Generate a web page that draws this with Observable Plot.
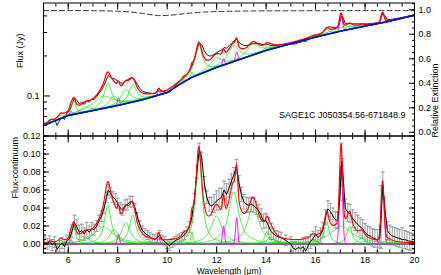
<!DOCTYPE html>
<html><head><meta charset="utf-8">
<script src="https://cdn.jsdelivr.net/npm/d3@7"></script>
<script src="https://cdn.jsdelivr.net/npm/@observablehq/plot@0.6"></script>
<style>
body{margin:0;background:#fff}
#chart{position:relative;width:441px;height:275px;overflow:hidden;background:#fff}
#chart svg{position:absolute;left:0;overflow:visible}
</style></head><body><div id="chart"></div>
<script>
// ---------- data ----------
const sourceName = "SAGE1C J050354.56-671848.9";

// observed spectrum: wavelength (µm), flux minus continuum (Jy), error (Jy)
const wavelength = [5.05,5.15,5.25,5.35,5.45,5.55,5.65,5.75,5.85,5.95,6.05,6.15,6.25,6.35,6.45,6.55,6.65,6.75,6.85,6.95,7.05,7.15,7.25,7.35,7.45,7.55,7.62,7.7,7.8,7.9,8.0,8.1,8.2,8.3,8.4,8.5,8.6,8.7,8.8,8.9,9.0,9.1,9.2,9.3,9.4,9.5,9.6,9.7,9.8,9.9,10.0,10.1,10.2,10.3,10.4,10.5,10.6,10.7,10.8,10.9,11.0,11.1,11.2,11.3,11.4,11.5,11.6,11.7,11.8,11.9,12.0,12.1,12.2,12.3,12.4,12.5,12.6,12.7,12.8,12.9,13.0,13.1,13.2,13.3,13.4,13.5,13.6,13.7,13.8,13.9,14.0,14.1,14.2,14.3,14.4,14.5,14.6,14.8,15.0,15.1,15.2,15.3,15.4,15.5,15.6,15.7,15.8,15.9,16.0,16.1,16.2,16.3,16.4,16.5,16.6,16.7,16.8,16.9,17.0,17.05,17.1,17.2,17.3,17.4,17.5,17.6,17.7,17.8,17.9,18.0,18.1,18.2,18.3,18.4,18.5,18.6,18.65,18.72,18.8,18.9,19.0,19.1,19.2,19.3,19.4,19.5,19.6,19.7,19.8,19.9,20.0];
const residual = [0.002,0.000,0.003,-0.001,0.002,-0.006,-0.002,0.001,-0.003,0.004,0.006,0.014,0.024,0.019,0.013,0.015,0.011,0.016,0.013,0.017,0.016,0.020,0.026,0.031,0.040,0.052,0.060,0.057,0.052,0.050,0.045,0.040,0.038,0.043,0.044,0.047,0.047,0.040,0.030,0.021,0.015,0.012,0.010,0.008,0.006,0.005,0.007,0.010,0.005,0.003,0.000,-0.002,0.001,0.003,0.005,0.006,0.008,0.010,0.014,0.019,0.030,0.050,0.080,0.105,0.095,0.068,0.052,0.044,0.042,0.045,0.048,0.050,0.052,0.060,0.055,0.062,0.070,0.077,0.086,0.068,0.055,0.047,0.044,0.043,0.044,0.043,0.040,0.037,0.032,0.025,0.026,0.020,0.014,0.011,0.009,0.008,0.007,0.004,0.000,-0.005,-0.006,-0.004,-0.005,-0.003,-0.008,-0.002,0.003,0.006,0.011,0.007,0.010,0.016,0.030,0.039,0.036,0.031,0.027,0.026,0.060,0.092,0.080,0.040,0.035,0.034,0.028,0.025,0.022,0.019,0.017,0.013,0.010,0.009,0.007,0.006,0.004,0.008,0.030,0.065,0.040,0.015,0.011,0.009,0.008,0.007,0.006,0.005,0.005,0.004,0.003,0.003,0.002];
const errorBar = [0.006,0.006,0.006,0.006,0.006,0.006,0.006,0.006,0.006,0.006,0.007,0.007,0.008,0.008,0.008,0.007,0.007,0.008,0.007,0.007,0.006,0.006,0.006,0.006,0.006,0.006,0.006,0.006,0.006,0.006,0.006,0.006,0.006,0.006,0.006,0.006,0.006,0.005,0.005,0.005,0.005,0.005,0.005,0.005,0.005,0.005,0.005,0.005,0.005,0.005,0.005,0.005,0.005,0.005,0.005,0.005,0.005,0.005,0.005,0.006,0.006,0.006,0.007,0.007,0.007,0.007,0.007,0.008,0.010,0.010,0.011,0.012,0.010,0.010,0.012,0.010,0.008,0.008,0.008,0.008,0.008,0.008,0.008,0.008,0.008,0.008,0.007,0.007,0.007,0.008,0.008,0.009,0.009,0.006,0.006,0.006,0.006,0.006,0.008,0.008,0.009,0.009,0.010,0.010,0.016,0.010,0.008,0.008,0.008,0.008,0.008,0.008,0.008,0.009,0.009,0.009,0.009,0.009,0.012,0.020,0.015,0.010,0.010,0.010,0.010,0.010,0.010,0.010,0.010,0.010,0.010,0.010,0.010,0.010,0.012,0.012,0.035,0.015,0.012,0.010,0.010,0.010,0.010,0.010,0.010,0.013,0.010,0.010,0.010,0.009,0.008];

// fitted continuum (Jy)
const contWave = [5,6,7,8,9,9.5,10,10.5,11,12,13,14,15,16,17,18,19,20];
const contFlux = [0.060,0.0713,0.0777,0.0848,0.0936,0.0996,0.106,0.122,0.138,0.164,0.190,0.220,0.247,0.277,0.307,0.335,0.365,0.405];

// relative extinction (right axis)
const extWave = [5,6,7,8,8.5,9,9.4,9.7,10,10.5,11,11.5,12,13,14,16,18,20];
const extValue = [0.993,0.993,0.992,0.988,0.982,0.970,0.958,0.952,0.953,0.963,0.974,0.981,0.985,0.989,0.991,0.992,0.993,0.993];

// dust features (Drude profiles): centre (µm), FWHM (µm), peak (Jy)
const featureCenter = [5.27,5.70,6.22,6.69,7.42,7.60,7.85,8.33,8.61,10.68,11.00,11.28,11.99,12.69,13.48,14.04,14.19,15.90,16.45,17.04,17.375,17.87,18.92];
const featureFwhm   = [0.18,0.20,0.19,0.47,0.94,0.33,0.42,0.42,0.34,0.21,0.10,0.30,0.54,0.50,0.54,0.22,0.36,0.32,0.23,1.10,0.25,0.29,0.36];
const featurePeak   = [0.002,0.004,0.020,0.007,0.019,0.043,0.016,0.024,0.032,0.004,0.013,0.101,0.031,0.058,0.043,0.014,0.008,0.005,0.0256,0.0195,0.020,0.007,0.004];

// gas lines (Gaussians): centre, FWHM, peak
const lineCenter = [6.11,8.03,9.66,12.28,12.81,17.03,18.71];
const lineFwhm   = [0.10,0.10,0.10,0.10,0.10,0.14,0.14];
const linePeak   = [0.005,0.011,0.008,0.020,0.030,0.088,0.066];

// axis ticks
const xMajor = [6,8,10,12,14,16,18,20];
const xMinor = d3.range(5, 20.01, 0.5);
const fluxMajor = [0.1];
const fluxMinor = [0.06,0.07,0.08,0.09,0.2,0.3,0.4];
const extMajor = [0,0.2,0.4,0.6,0.8,1.0];
const extMinor = d3.range(0, 1.051, 0.05);
const resMajor = [0,0.02,0.04,0.06,0.08,0.10,0.12];
const resMinor = d3.range(-0.01, 0.1201, 0.005);

// ---------- model ----------
const logCont = d3.scaleLinear().domain(contWave).range(contFlux.map(Math.log));
const cont = w => Math.exp(logCont(w));
const drude = (w, c, f, p) => { const g = f / c, t = w / c - c / w; return p * g * g / (t * t + g * g); };
const gauss = (w, c, f, p) => { const s = f / 2.3548; return p * Math.exp(-0.5 * ((w - c) / s) ** 2); };
const grid = d3.range(5, 20.0001, 0.02);
const featCurves = [], lineCurves = [];
featureCenter.forEach((c, i) => grid.forEach(w => featCurves.push({w, f: i, v: drude(w, c, featureFwhm[i], featurePeak[i])})));
lineCenter.forEach((c, i) => grid.filter(w => Math.abs(w - c) < 0.35).forEach(w => lineCurves.push({w, f: i, v: gauss(w, c, lineFwhm[i], linePeak[i])})));
const model = grid.map(w => ({w,
  v: d3.sum(featureCenter, (c, i) => drude(w, c, featureFwhm[i], featurePeak[i])) +
     d3.sum(lineCenter, (c, i) => gauss(w, c, lineFwhm[i], linePeak[i]))}));
const obs = wavelength.map((w, i) => ({w, r: residual[i], e: errorBar[i]}));
const ext = extWave.map((w, i) => ({w, v: extValue[i]}));

const font = "'Liberation Sans', Arial, Helvetica, sans-serif";
const W = 441, ML = 43, MR = 27;
const GREEN = "#00e000", MAG = "#ff00ff";
const blank = () => "";
const capSymbol = {draw(ctx, size) { const r = Math.sqrt(size / Math.PI); ctx.moveTo(-r, 0); ctx.lineTo(r, 0); }};

function xTicks(anchor) {
  const s = anchor === "bottom" ? -1 : 1;
  return [
    Plot.axisX({anchor, ticks: xMinor, tickSize: 3, dy: s * 3, tickFormat: blank, label: null}),
    Plot.axisX({anchor, ticks: xMajor, tickSize: 6, dy: s * 6, tickFormat: blank, label: null})
  ];
}
function yTicks(anchor, major, minor, majLen, minLen) {
  const s = anchor === "left" ? 1 : -1;
  return [
    Plot.axisY({anchor, ticks: minor, tickSize: minLen, dx: s * minLen, tickFormat: blank, label: null}),
    Plot.axisY({anchor, ticks: major, tickSize: majLen, dx: s * majLen, tickFormat: blank, label: null})
  ];
}

// ---------- top panel ----------
const topPlot = Plot.plot({
  width: W, height: 136, marginLeft: ML, marginRight: MR, marginTop: 2.5, marginBottom: 0.5,
  style: {fontFamily: font, fontSize: "9px", background: "transparent", color: "black"},
  x: {domain: [5, 20], label: null},
  y: {type: "log", domain: [0.05, 0.5], label: null},
  marks: [
    Plot.line(obs, {x: "w", y: d => cont(d.w) + d.r, stroke: "black", strokeWidth: 0.9, clip: true}),
    Plot.line(featCurves, {x: "w", y: d => cont(d.w) + d.v, z: "f", stroke: GREEN, strokeWidth: 0.7, clip: true}),
    Plot.line(lineCurves, {x: "w", y: d => cont(d.w) + d.v, z: "f", stroke: MAG, strokeWidth: 0.9, clip: true}),
    Plot.line(model, {x: "w", y: d => cont(d.w) + d.v, stroke: "#ff0000", strokeWidth: 1.3, clip: true}),
    Plot.line(grid, {x: d => d, y: d => cont(d), stroke: "#0000ff", strokeWidth: 1.6, clip: true}),
    ...xTicks("bottom"), ...xTicks("top"),
    ...yTicks("left", fluxMajor, fluxMinor, 7, 4),
    Plot.axisY({anchor: "left", ticks: fluxMajor, tickSize: 0, tickPadding: 4, tickFormat: d3.format(".1f"), label: null}),
    Plot.frame({stroke: "black"}),
    Plot.text([sourceName], {text: d => d, frameAnchor: "bottom-right", dx: -9, dy: -18, textAnchor: "end", fontSize: 9}),
    Plot.text(["Flux (Jy)"], {text: d => d, frameAnchor: "left", dx: -23, dy: -1.5, rotate: -90, fontSize: 9})
  ]
});

// extinction overlay (right axis)
const extPlot = Plot.plot({
  width: W, height: 136, marginLeft: ML, marginRight: MR, marginTop: 2.5, marginBottom: 0.5,
  style: {fontFamily: font, fontSize: "9px", background: "transparent", color: "black"},
  x: {domain: [5, 20], axis: null, label: null},
  y: {domain: [-0.03, 1.055], label: null},
  marks: [
    Plot.line(ext, {x: "w", y: "v", stroke: "#333", strokeWidth: 1, strokeDasharray: "5,3", curve: "monotone-x"}),
    ...yTicks("right", extMajor, extMinor, 6, 3),
    Plot.axisY({anchor: "right", ticks: extMajor, tickSize: 0, tickPadding: 4, tickFormat: d3.format(".1f"), label: null}),
    Plot.text(["Relative Extinction"], {text: d => d, frameAnchor: "right", dx: 21, dy: -6, rotate: -90, fontSize: 9})
  ]
});

// ---------- bottom panel ----------
const botPlot = Plot.plot({
  width: W, height: 140, marginLeft: ML, marginRight: MR, marginTop: 0.5, marginBottom: 22.5,
  style: {fontFamily: font, fontSize: "9px", background: "transparent", color: "black"},
  x: {domain: [5, 20], label: null},
  y: {domain: [-0.01, 0.12], label: null},
  marks: [
    Plot.ruleX(obs, {x: "w", y1: d => d.r - d.e, y2: d => d.r + d.e, stroke: "#8c8c8c", strokeWidth: 0.8, clip: true}),
    Plot.dot(obs, {x: "w", y: d => d.r + d.e, symbol: capSymbol, r: 2, stroke: "#8c8c8c", strokeWidth: 0.8, fill: "none", clip: true}),
    Plot.dot(obs, {x: "w", y: d => d.r - d.e, symbol: capSymbol, r: 2, stroke: "#8c8c8c", strokeWidth: 0.8, fill: "none", clip: true}),
    Plot.line(featCurves, {x: "w", y: "v", z: "f", stroke: GREEN, strokeWidth: 0.7, clip: true}),
    Plot.ruleY([0], {stroke: MAG, strokeWidth: 1.2}),
    Plot.line(lineCurves, {x: "w", y: "v", z: "f", stroke: MAG, strokeWidth: 0.9, clip: true}),
    Plot.line(obs, {x: "w", y: "r", stroke: "black", strokeWidth: 1, clip: true}),
    Plot.line(model, {x: "w", y: "v", stroke: "#ff0000", strokeWidth: 1.1, clip: true}),
    ...xTicks("bottom"), ...xTicks("top"),
    ...yTicks("left", resMajor, resMinor, 6, 3),
    ...yTicks("right", resMajor, resMinor, 6, 3),
    Plot.axisX({anchor: "bottom", ticks: xMajor, tickSize: 0, tickPadding: 4, tickFormat: d3.format("d"), label: null}),
    Plot.axisY({anchor: "left", ticks: resMajor, tickSize: 0, tickPadding: 3, tickFormat: d3.format(".2f"), label: null}),
    Plot.frame({stroke: "black"}),
    Plot.text(["Wavelength (\u03bcm)"], {text: d => d, frameAnchor: "bottom", dy: 20.5, fontSize: 8.5}),
    Plot.text(["Flux-continuum"], {text: d => d, frameAnchor: "left", dx: -28, dy: 4, rotate: -90, fontSize: 9})
  ]
});

const chart = document.getElementById("chart");
topPlot.style.top = "0px"; extPlot.style.top = "0px"; botPlot.style.top = "135px";
chart.append(botPlot, topPlot, extPlot);
</script></body></html>
